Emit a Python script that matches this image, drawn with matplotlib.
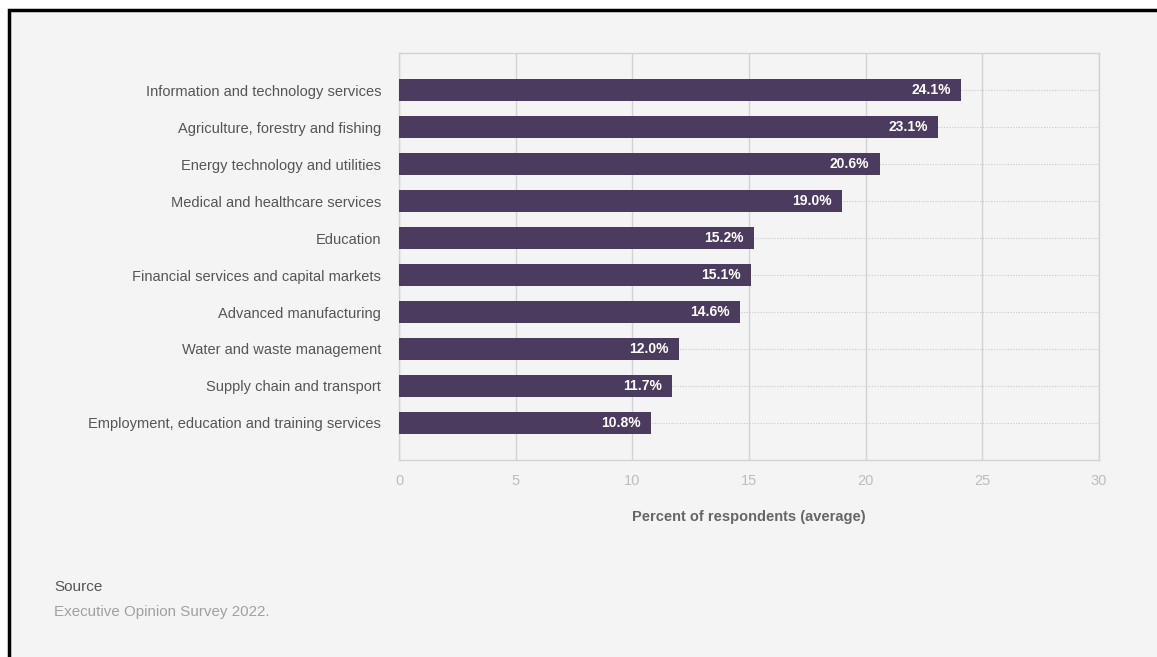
import matplotlib.pyplot as plt
from matplotlib.patches import Rectangle

plt.rcParams['font.family'] = ['Liberation Sans', 'DejaVu Sans']

# Data, top to bottom
categories = [
    "Information and technology services",
    "Agriculture, forestry and fishing",
    "Energy technology and utilities",
    "Medical and healthcare services",
    "Education",
    "Financial services and capital markets",
    "Advanced manufacturing",
    "Water and waste management",
    "Supply chain and transport",
    "Employment, education and training services",
]
values = [24.1, 23.1, 20.6, 19.0, 15.2, 15.1, 14.6, 12.0, 11.7, 10.8]
xticks = [0, 5, 10, 15, 20, 25, 30]

bar_color = "#4b3b5e"
bg = "#f4f4f4"

fig = plt.figure(figsize=(11.57, 6.57), dpi=100, facecolor="white")

# panel background with black frame on top/left
fig.patches.append(Rectangle((9 / 1157, -0.1), 1.2, 0.985 + 0.1,
                             transform=fig.transFigure, facecolor=bg,
                             edgecolor="black", linewidth=2.5, zorder=-1))

ax = fig.add_axes([0.345, 0.300, 0.605, 0.619])
ax.set_facecolor(bg)

pos = list(range(len(categories)))
ax.barh(pos, values, height=0.6, color=bar_color, zorder=3)

# dotted guide lines behind bars
for p in pos:
    ax.axhline(p, color="#c8c8c8", linestyle=(0, (1, 1.5)), linewidth=0.8, zorder=1)

for p, v in zip(pos, values):
    ax.text(v - 0.45, p, f"{v:.1f}%", ha="right", va="center", color="white",
            fontsize=10, fontweight="bold", zorder=4)

ax.set_ylim(len(categories) - 0.0, -1.0)
ax.set_xlim(0, 30)
ax.set_xticks(xticks)
ax.set_xticklabels([str(t) for t in xticks], color="#bdbdbd", fontsize=10.5)
ax.set_yticks(pos)
ax.set_yticklabels(categories, color="#555555", fontsize=10.5)
ax.tick_params(axis="both", length=0)
ax.tick_params(axis="x", pad=10)
ax.tick_params(axis="y", pad=13)
ax.xaxis.grid(True, color="#d2d2d2", linewidth=1, zorder=0)
ax.set_axisbelow(True)
for s in ax.spines.values():
    s.set_color("#d2d2d2")
    s.set_linewidth(1)

ax.set_xlabel("Percent of respondents (average)", color="#666666",
              fontsize=10.5, fontweight="bold", labelpad=16)

fig.text(54 / 1157, 1 - 587 / 657, "Source", color="#555555", fontsize=11, va="center")
fig.text(54 / 1157, 1 - 612 / 657, "Executive Opinion Survey 2022.", color="#a0a0a0",
         fontsize=10.9, va="center")

fig.savefig("out.png", dpi=100, facecolor=fig.get_facecolor())
